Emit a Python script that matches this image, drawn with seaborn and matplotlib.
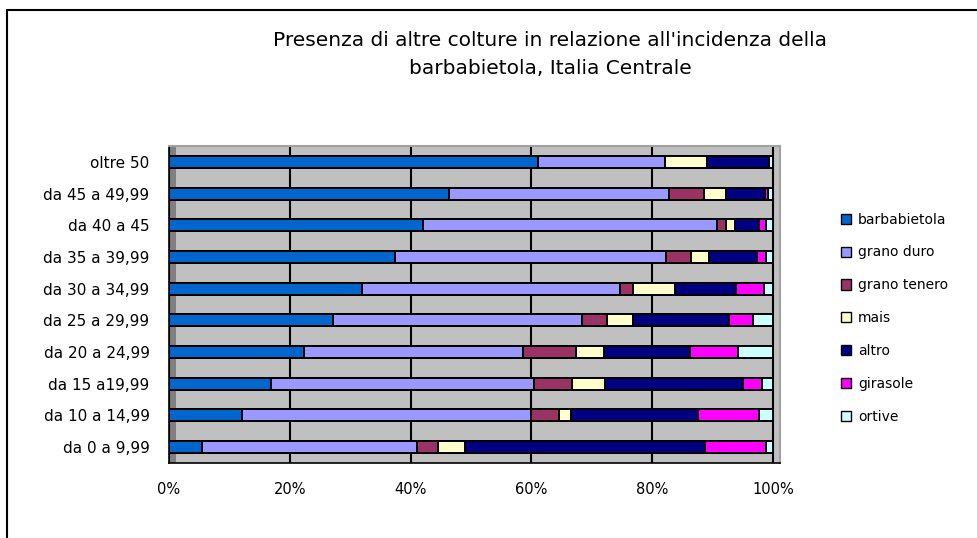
import matplotlib
matplotlib.use("Agg")
import matplotlib.pyplot as plt
import seaborn as sns
import pandas as pd
import numpy as np
from matplotlib.lines import Line2D
from matplotlib.patches import Patch, Rectangle

categories = ["oltre 50", "da 45 a 49,99", "da 40 a 45", "da 35 a 39,99",
              "da 30 a 34,99", "da 25 a 29,99", "da 20 a 24,99",
              "da 15 a19,99", "da 10 a 14,99", "da 0 a 9,99"]
series = ["barbabietola", "grano duro", "grano tenero", "mais",
          "altro", "girasole", "ortive"]
barbabietola = [61.1, 46.4, 42.1, 37.4, 31.9, 27.1, 22.4, 16.9, 12.1, 5.5]
grano_duro = [21.0, 36.3, 48.6, 44.9, 42.8, 41.3, 36.2, 43.5, 47.9, 35.6]
grano_tenero = [0.0, 5.9, 1.5, 4.1, 2.2, 4.1, 8.8, 6.3, 4.5, 3.5]
mais = [6.9, 3.6, 1.5, 3.0, 6.9, 4.4, 4.7, 5.5, 2.1, 4.4]
altro = [10.3, 6.4, 4.0, 8.0, 10.0, 15.8, 14.1, 22.8, 21.0, 39.7]
girasole = [0.0, 0.5, 1.1, 1.4, 4.7, 4.0, 8.0, 3.2, 10.1, 10.1]
ortive = [0.7, 0.9, 1.2, 1.2, 1.5, 3.3, 5.8, 1.8, 2.3, 1.2]
tick_labels = ["0%", "20%", "40%", "60%", "80%", "100%"]
colors = ["#0066CC", "#9999FF", "#993366", "#FFFFCC", "#000080", "#FF00FF", "#CCFFFF"]

values = pd.DataFrame({
    "barbabietola": barbabietola, "grano duro": grano_duro,
    "grano tenero": grano_tenero, "mais": mais, "altro": altro,
    "girasole": girasole, "ortive": ortive}, index=categories)
pct = values.div(values.sum(axis=1), axis=0) * 100
cum = pct.cumsum(axis=1)

sns.set_style("white")
plt.rcParams['font.family'] = ['DejaVu Sans']
plt.rcParams['text.color'] = 'black'
plt.rcParams['xtick.color'] = 'black'
plt.rcParams['ytick.color'] = 'black'

W, H = 977, 538
fig = plt.figure(figsize=(W / 100, H / 100), dpi=100)
ax_l, ax_r, ax_t, ax_b = 169, 780, 146, 463
ax = fig.add_axes([ax_l / W, 1 - ax_b / H, (ax_r - ax_l) / W, (ax_b - ax_t) / H])
ax.set_facecolor("#C0C0C0")

xmax = 100 * (ax_r - ax_l) / (773 - 169)

for name, col in reversed(list(zip(series, colors))):
    df = pd.DataFrame({"cat": categories, "val": cum[name].values})
    sns.barplot(data=df, x="val", y="cat", orient="h", color=col,
                width=0.38, edgecolor="black", linewidth=1.4, ax=ax,
                saturation=1)

ax.set_xlim(0, xmax)
ax.set_ylim(len(categories) - 0.5, -0.5)
ax.set_xticks([0, 20, 40, 60, 80, 100])
ax.set_xticklabels(tick_labels, fontsize=10.5, color="black")
ax.set_xlabel("")
ax.set_ylabel("")
ax.set_yticks(range(len(categories)))
ax.set_yticklabels(categories, fontsize=11, color="black")
ax.set_yticks(np.arange(-0.5, len(categories), 1), minor=True)
ax.tick_params(axis="y", which="major", length=0, pad=14)
ax.tick_params(axis="y", which="minor", length=4, width=1, color="black", direction="out")
ax.tick_params(axis="x", length=5, width=1, color="black", direction="out", pad=9)
ax.xaxis.grid(True, color="black", linewidth=1.5)
ax.set_axisbelow(True)
for s in ["top", "right"]:
    ax.spines[s].set_visible(True)
    ax.spines[s].set_color("#A0A0A0")
    ax.spines[s].set_linewidth(1.5)
ax.spines["left"].set_color("black")
ax.spines["bottom"].set_color("black")
ax.spines["left"].set_linewidth(1.2)
ax.spines["bottom"].set_linewidth(1.2)
ax.add_patch(Rectangle((0, 0), 7 / (ax_r - ax_l), 1, transform=ax.transAxes,
                       facecolor="#808080", edgecolor="none", zorder=0.5))

fig.text(550 / W, 1 - 40 / H, "Presenza di altre colture in relazione all'incidenza della",
         ha="center", va="center", fontsize=14.5, color="black")
fig.text(550 / W, 1 - 68 / H, "barbabietola, Italia Centrale",
         ha="center", va="center", fontsize=14.5, color="black")

handles = [Patch(facecolor=c, edgecolor="black", linewidth=1) for c in colors]
leg = fig.legend(handles, series, loc="upper left", bbox_to_anchor=(835 / W, 1 - 207 / H),
                 frameon=False, fontsize=10, handlelength=0.75, handleheight=0.75,
                 handletextpad=0.5, labelspacing=1.36, borderaxespad=0)
for t in leg.get_texts():
    t.set_color("black")

fig.add_artist(Line2D([7 / W, 7 / W], [0, 1 - 10 / H], color="black", linewidth=1.5))
fig.add_artist(Line2D([7 / W, 1], [1 - 10 / H, 1 - 10 / H], color="black", linewidth=1.5))

fig.savefig("out.png", dpi=100)
